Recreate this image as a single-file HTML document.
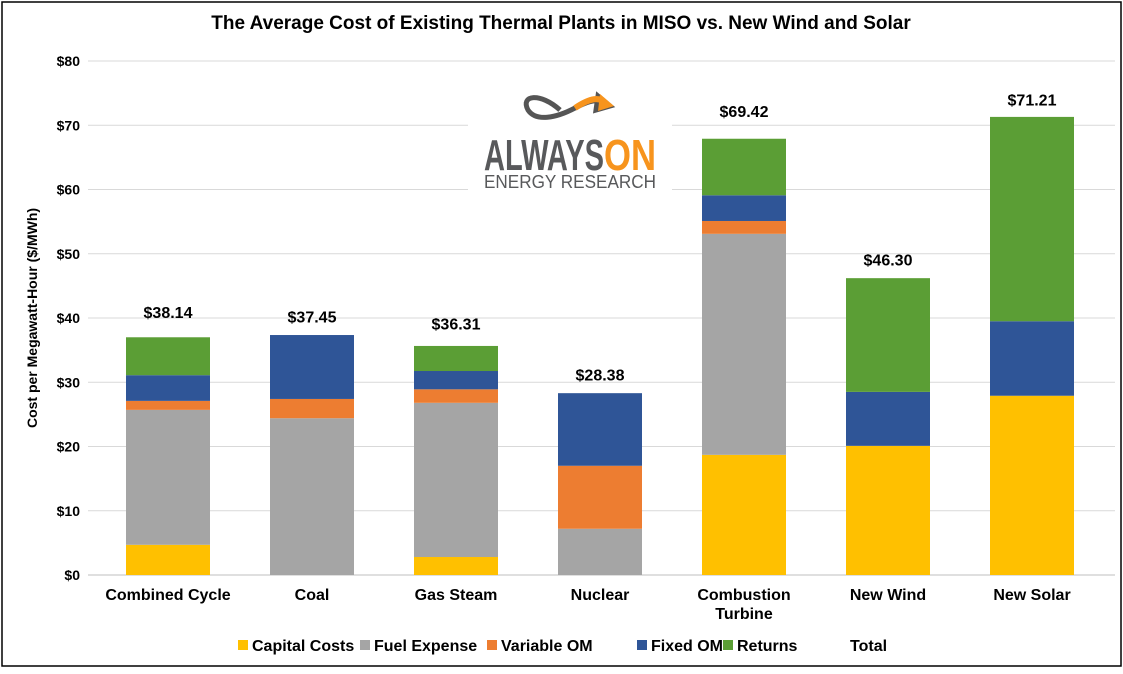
<!DOCTYPE html>
<html><head><meta charset="utf-8"><style>
body{margin:0;background:#fff;font-family:"Liberation Sans",Arial,sans-serif}
#wrap{position:absolute;left:0;top:0;width:1123px;height:674px;overflow:hidden}
svg text{font-family:"Liberation Sans",Arial,sans-serif;font-weight:bold}
</style></head><body>
<div id="wrap">
<svg id="chart" width="1123" height="674">
<rect x="2" y="2" width="1119" height="664" fill="#fff" stroke="#000" stroke-width="1.5"/>
<text x="561" y="29" text-anchor="middle" font-size="19" fill="#000">The Average Cost of Existing Thermal Plants in MISO vs. New Wind and Solar</text>
<text transform="translate(37,318) rotate(-90)" text-anchor="middle" font-size="14" fill="#000">Cost per Megawatt-Hour ($/MWh)</text>
<g id="grid"></g><g id="bars"></g><g id="labels"></g>
<g>
<rect x="468" y="85" width="204" height="115" fill="#fff"/>
<path d="M560 110 C540 92 520 95 528 110 C536 122 556 118 575 108 C594 98 605 98 608 108 M598 96 l12 10 -14 4 z" fill="none" stroke="#555" stroke-width="5"/>
<path d="M575 108 C590 98 600 96 606 104" fill="none" stroke="#f7941d" stroke-width="6"/>
<path d="M600 94 l14 12 -16 5 z" fill="#f7941d"/>
<text x="484" y="170" font-size="44" fill="#58595b" style="font-stretch:condensed" textLength="120" lengthAdjust="spacingAndGlyphs">ALWAYS</text>
<text x="604" y="170" font-size="44" fill="#f7941d" textLength="52" lengthAdjust="spacingAndGlyphs">ON</text>
<text x="484" y="188" font-size="18" fill="#58595b" style="font-weight:normal" textLength="172" lengthAdjust="spacingAndGlyphs">ENERGY RESEARCH</text>
</g>
<g id="legend"></g>
</svg>
</div>
<script>
const categories=["Combined Cycle","Coal","Gas Steam","Nuclear","Combustion Turbine","New Wind","New Solar"];
const seriesNames=["Capital Costs","Fuel Expense","Variable OM","Fixed OM","Returns"];
const capital=[4.7,0,2.8,0,18.7,20.1,27.9];
const fuel=[21.0,24.4,24.0,7.2,34.4,0,0];
const variableOM=[1.4,3.0,2.1,9.8,2.0,0,0];
const fixedOM=[4.0,9.95,2.85,11.3,4.0,8.4,11.6];
const returns=[5.9,0,3.9,0,8.8,17.7,31.8];
const totals=[38.14,37.45,36.31,28.38,69.42,46.30,71.21];
const totalLabels=["$38.14","$37.45","$36.31","$28.38","$69.42","$46.30","$71.21"];
const yTicks=[0,10,20,30,40,50,60,70,80];
const colors=["#ffc000","#a5a5a5","#ed7d31","#2f5597","#5b9e35"];
const series=[capital,fuel,variableOM,fixedOM,returns];
const NS="http://www.w3.org/2000/svg";
const x0=96,band=144,bw=84,yBase=575,yTop=61,yMax=80;
const y=v=>yBase-(v/yMax)*(yBase-yTop);
const xc=i=>x0+band*i+band/2;
function mk(t,a,p){const e=document.createElementNS(NS,t);for(const k in a)e.setAttribute(k,a[k]);p.appendChild(e);return e;}
const grid=document.getElementById('grid');
yTicks.forEach(t=>{
 const l=mk('line',{x1:88,x2:1115,y1:y(t),y2:y(t),stroke:t===0?'#bfbfbf':'#d9d9d9','stroke-width':1},grid);
 
 
 const tx=mk('text',{x:80,y:y(t)+5,'text-anchor':'end','font-size':14},grid);
 tx.textContent='$'+t;
 
 
});
const bars=document.getElementById('bars'),labels=document.getElementById('labels');
categories.forEach((c,i)=>{
 let acc=0;
 series.forEach((s,k)=>{
  const v=s[i]; if(v<=0)return;
  const r=mk('rect',{x:xc(i)-bw/2,y:y(acc+v),width:bw,height:y(acc)-y(acc+v),fill:colors[k]},bars);
  
  
  acc+=v;
 });
 const tl=mk('text',{x:xc(i),y:y(totals[i])-12,'text-anchor':'middle','font-size':16},labels);
 tl.textContent=totalLabels[i];
 
 
 const parts=c==="Combustion Turbine"?["Combustion","Turbine"]:[c];
 parts.forEach((p,j)=>{
  const ct=mk('text',{x:xc(i),y:600+j*19,'text-anchor':'middle','font-size':16},labels);
  ct.textContent=p;
  
  
 });
});
const lg=document.getElementById('legend');
const lx=[238,360,487,637,723,850];
seriesNames.concat(["Total"]).forEach((n,k)=>{
 if(k<5){const s=mk('rect',{x:lx[k],y:640,width:10,height:10,fill:colors[k]},lg);
  
  }
 const t=mk('text',{x:lx[k]+(k<5?14:0),y:651,'font-size':16},lg);
 t.textContent=n;
 
 
});
</script>
</body></html>
